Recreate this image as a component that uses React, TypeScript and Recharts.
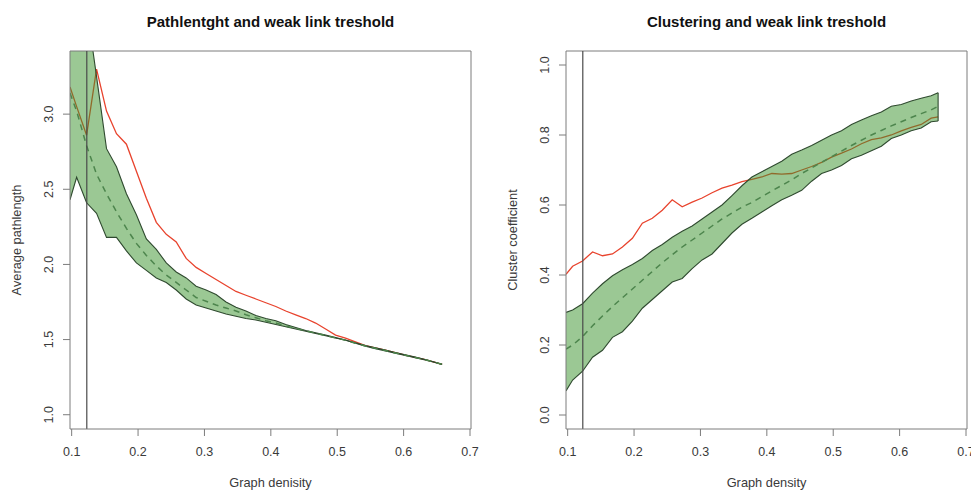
import React from "react";
import { ComposedChart, Area, Line, XAxis, YAxis, ReferenceLine } from "recharts";

// Graph density grid
const density = [
  0.0975, 0.1075, 0.1225, 0.1375, 0.1525, 0.1675, 0.1825, 0.1975, 0.2125, 0.2275,
  0.2425, 0.2575, 0.2725, 0.2875, 0.3025, 0.3175, 0.3325, 0.3475, 0.3625, 0.3775,
  0.3925, 0.4075, 0.4225, 0.4375, 0.4525, 0.4675, 0.4825, 0.4975, 0.5125, 0.5275,
  0.5425, 0.5575, 0.5725, 0.5875, 0.6025, 0.6175, 0.6325, 0.6475, 0.658,
];

// Left panel: average pathlength
const pathLow = [
  2.43, 2.58, 2.41, 2.34, 2.18, 2.18, 2.09, 2.01, 1.96, 1.91,
  1.88, 1.83, 1.77, 1.73, 1.71, 1.69, 1.67, 1.655, 1.64, 1.63,
  1.615, 1.6, 1.585, 1.57, 1.555, 1.54, 1.525, 1.51, 1.495, 1.475,
  1.455, 1.44, 1.425, 1.41, 1.395, 1.38, 1.365, 1.347, 1.335,
];
const pathHigh = [
  3.9, 3.9, 3.72, 3.25, 2.77, 2.65, 2.47, 2.33, 2.17, 2.1,
  2.01, 1.95, 1.91, 1.855, 1.83, 1.8, 1.75, 1.715, 1.69, 1.66,
  1.64, 1.625, 1.6, 1.58, 1.56, 1.545, 1.53, 1.513, 1.497, 1.478,
  1.46, 1.445, 1.43, 1.413, 1.398, 1.383, 1.368, 1.349, 1.335,
];
const pathMean = [
  3.14, 3.02, 2.79, 2.6, 2.47, 2.35, 2.24, 2.14, 2.06, 1.99,
  1.93, 1.88, 1.83, 1.78, 1.755, 1.73, 1.71, 1.69, 1.665, 1.645,
  1.625, 1.61, 1.59, 1.575, 1.558, 1.543, 1.527, 1.511, 1.496, 1.476,
  1.457, 1.442, 1.427, 1.411, 1.396, 1.381, 1.366, 1.348, 1.335,
];
const pathObserved = [
  3.18, 3.05, 2.86, 3.3, 3.02, 2.87, 2.8, 2.62, 2.44, 2.28,
  2.2, 2.15, 2.04, 1.98, 1.94, 1.9, 1.86, 1.82, 1.795, 1.77,
  1.745, 1.72, 1.69, 1.665, 1.64, 1.61, 1.57, 1.53, 1.51, 1.485,
  1.46, 1.445, 1.43, 1.413, 1.397, 1.382, 1.367, 1.349, 1.335,
];

// Right panel: cluster coefficient
const clustLow = [
  0.069, 0.1, 0.125, 0.165, 0.185, 0.222, 0.238, 0.268, 0.305, 0.33,
  0.355, 0.38, 0.39, 0.418, 0.443, 0.46, 0.49, 0.52, 0.545, 0.562,
  0.58, 0.598, 0.615, 0.628, 0.642, 0.668, 0.69, 0.7, 0.713, 0.732,
  0.742, 0.755, 0.768, 0.79, 0.8, 0.812, 0.82, 0.838, 0.84,
];
const clustHigh = [
  0.293, 0.3, 0.318, 0.348, 0.375, 0.398, 0.415, 0.43, 0.447, 0.47,
  0.487, 0.508, 0.525, 0.54, 0.56, 0.58, 0.6, 0.627, 0.655, 0.68,
  0.695, 0.71, 0.725, 0.745, 0.757, 0.77, 0.785, 0.8, 0.812, 0.83,
  0.843, 0.855, 0.866, 0.882, 0.887, 0.897, 0.905, 0.912, 0.921,
];
const clustMean = [
  0.188, 0.2, 0.224, 0.255, 0.283, 0.31, 0.335, 0.36, 0.385, 0.41,
  0.435, 0.458, 0.48, 0.5, 0.52, 0.54, 0.56, 0.577, 0.594, 0.607,
  0.624, 0.64, 0.656, 0.672, 0.69, 0.706, 0.722, 0.738, 0.754, 0.77,
  0.785, 0.8, 0.813, 0.826, 0.838, 0.85, 0.861, 0.872, 0.882,
];
const clustObserved = [
  0.402, 0.425, 0.44, 0.466, 0.455, 0.46, 0.48, 0.505, 0.548, 0.562,
  0.585, 0.615, 0.595, 0.608, 0.62, 0.635, 0.648, 0.657, 0.667, 0.673,
  0.68, 0.69, 0.688, 0.69, 0.7, 0.71, 0.722, 0.737, 0.748, 0.76,
  0.775, 0.787, 0.792, 0.8, 0.812, 0.822, 0.83, 0.848, 0.852,
];

const xTicks = [0.1, 0.2, 0.3, 0.4, 0.5, 0.6, 0.7];
const pathTicks = [1.0, 1.5, 2.0, 2.5, 3.0];
const clustTicks = [0.0, 0.2, 0.4, 0.6, 0.8, 1.0];
const weakLinkThreshold = 0.1228;

const X_DOMAIN: [number, number] = [0.0975, 0.7015];
const PATH_DOMAIN: [number, number] = [0.905, 3.42];
const CLUST_DOMAIN: [number, number] = [-0.04, 1.04];

const BOX = "#7c7c7c";
const TEXT = "#3a3a3a";
const FONT = "'Liberation Sans', Arial, Helvetica, sans-serif";

function build(lo: number[], hi: number[], mean: number[], obs: number[]) {
  return density.map((x, i) => ({ x, band: [lo[i], hi[i]], mean: mean[i], obs: obs[i] }));
}

const XTick = (props: any) => {
  const { x, y, payload } = props;
  return (
    <text x={x} y={y + 16} dy="0.35em" textAnchor="middle" fontSize={12.5} fill={TEXT} fontFamily={FONT}>
      {Number(payload.value).toFixed(1)}
    </text>
  );
};

const YTick = (props: any) => {
  const { x, y, payload } = props;
  const cx = x - 14;
  return (
    <text
      x={cx}
      y={y}
      dy="0.35em"
      textAnchor="middle"
      fontSize={12.5}
      fill={TEXT}
      fontFamily={FONT}
      transform={`rotate(-90, ${cx}, ${y})`}
    >
      {Number(payload.value).toFixed(1)}
    </text>
  );
};

type PanelProps = {
  left: number;
  width: number;
  yAxisWidth: number;
  marginRight: number;
  data: any[];
  yDomain: [number, number];
  yTicks: number[];
  last: { x: number; lo: number; hi: number };
};

function Panel({ left, width, yAxisWidth, marginRight, data, yDomain, yTicks, last }: PanelProps) {
  return (
    <div style={{ position: "absolute", left, top: 0 }}>
      <ComposedChart
        width={width}
        height={490}
        data={data}
        margin={{ top: 51, right: marginRight, bottom: 0, left: 0 }}
      >
        <XAxis
          dataKey="x"
          type="number"
          domain={X_DOMAIN}
          ticks={xTicks}
          allowDataOverflow
          height={61}
          tickSize={7}
          tickMargin={0}
          stroke={BOX}
          tick={<XTick />}
          interval={0}
        />
        <YAxis
          type="number"
          domain={yDomain}
          ticks={yTicks}
          allowDataOverflow
          width={yAxisWidth}
          tickSize={7}
          tickMargin={0}
          stroke={BOX}
          tick={<YTick />}
          interval={0}
        />
        <ReferenceLine y={yDomain[1]} stroke={BOX} strokeWidth={1} />
        <ReferenceLine x={X_DOMAIN[1]} stroke={BOX} strokeWidth={1} />
        <Area
          dataKey="obs"
          type="linear"
          stroke="#e8432d"
          strokeWidth={1.3}
          fill="none"
          isAnimationActive={false}
          dot={false}
          activeDot={false}
        />
        <Area
          dataKey="band"
          type="linear"
          stroke="#2f4a2f"
          strokeWidth={1.1}
          fill="#38922a"
          fillOpacity={0.5}
          isAnimationActive={false}
          dot={false}
          activeDot={false}
        />
        <ReferenceLine
          segment={[
            { x: last.x, y: last.lo },
            { x: last.x, y: last.hi },
          ]}
          stroke="#2f4a2f"
          strokeWidth={1.1}
        />
        <Line
          dataKey="mean"
          type="linear"
          stroke="#4d854d"
          strokeWidth={1.5}
          strokeDasharray="6 5"
          dot={false}
          activeDot={false}
          isAnimationActive={false}
        />
        <ReferenceLine x={weakLinkThreshold} stroke="#4a4a4a" strokeWidth={1.2} />
      </ComposedChart>
    </div>
  );
}

const textBase: React.CSSProperties = {
  position: "absolute",
  fontFamily: FONT,
  color: TEXT,
  whiteSpace: "nowrap",
  lineHeight: "1",
};

function Title({ cx, cy, text }: { cx: number; cy: number; text: string }) {
  return (
    <div style={{ ...textBase, left: cx, top: cy, transform: "translate(-50%, -50%)", fontWeight: "bold", fontSize: 15, color: "#111" }}>
      {text}
    </div>
  );
}

function AxisTitle({ cx, cy, text, rotate }: { cx: number; cy: number; text: string; rotate?: boolean }) {
  return (
    <div
      style={{
        ...textBase,
        left: cx,
        top: cy,
        fontSize: 12.8,
        transform: `translate(-50%, -50%)${rotate ? " rotate(-90deg)" : ""}`,
      }}
    >
      {text}
    </div>
  );
}

export default function App() {
  const pathData = build(pathLow, pathHigh, pathMean, pathObserved);
  const clustData = build(clustLow, clustHigh, clustMean, clustObserved);
  const n = density.length - 1;
  return (
    <div style={{ position: "fixed", left: 0, top: 0, width: 971, height: 490, background: "#fff", overflow: "hidden" }}>
      <Panel
        left={0}
        width={490}
        yAxisWidth={70}
        marginRight={19}
        data={pathData}
        yDomain={PATH_DOMAIN}
        yTicks={pathTicks}
        last={{ x: density[n], lo: pathLow[n], hi: pathHigh[n] }}
      />
      <Panel
        left={490}
        width={481}
        yAxisWidth={76}
        marginRight={4}
        data={clustData}
        yDomain={CLUST_DOMAIN}
        yTicks={clustTicks}
        last={{ x: density[n], lo: clustLow[n], hi: clustHigh[n] }}
      />
      <Title cx={270.5} cy={21} text="Pathlentght and weak link treshold" />
      <Title cx={766.5} cy={21} text="Clustering and weak link treshold" />
      <AxisTitle cx={270.5} cy={483} text="Graph denisity" />
      <AxisTitle cx={766.5} cy={483} text="Graph density" />
      <AxisTitle cx={17} cy={240} text="Average pathlength" rotate />
      <AxisTitle cx={513} cy={240} text="Cluster coefficient" rotate />
    </div>
  );
}
